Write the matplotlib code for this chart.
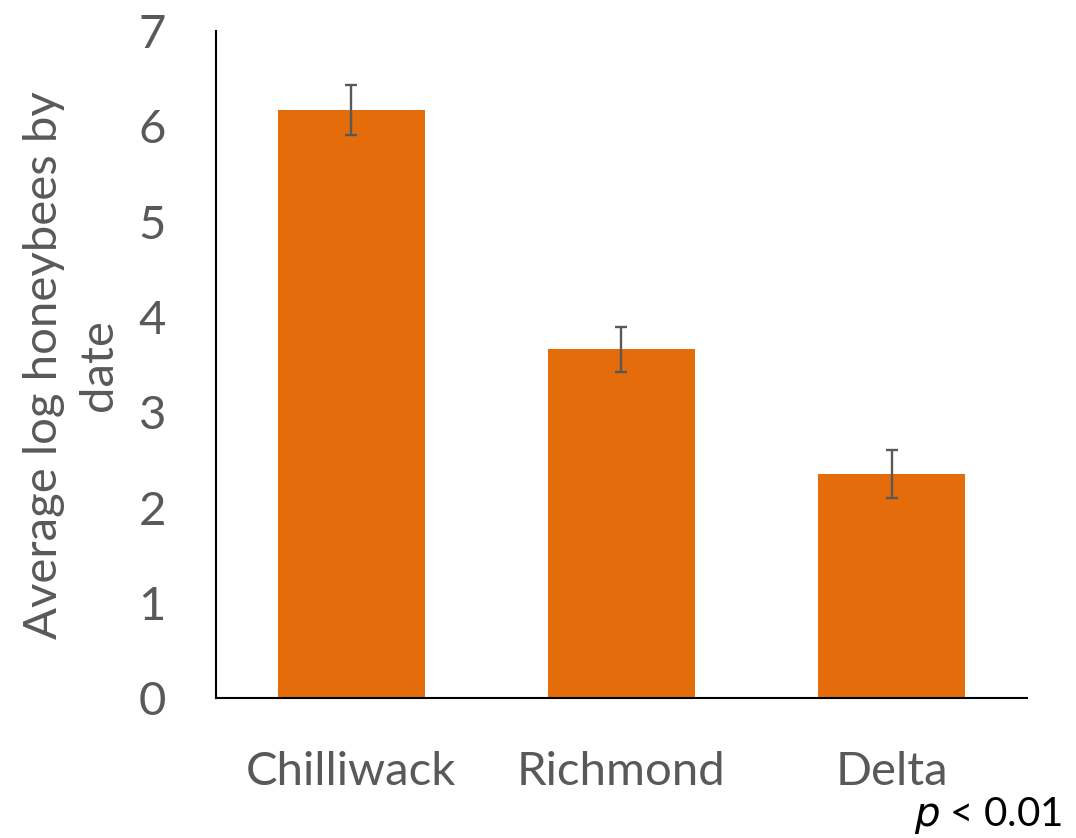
import numpy as np
import matplotlib.pyplot as plt

# Average log honeybee counts per site, with standard error
sites = ["Chilliwack", "Richmond", "Delta"]
mean_log_bees = [6.17, 3.66, 2.35]
std_err = [0.26, 0.24, 0.25]

BAR_COLOR = "#E46C0A"
TEXT_GREY = "#595959"

plt.rcParams['font.family'] = ['Lato', 'DejaVu Sans']

fig = plt.figure(figsize=(10.76, 8.38), dpi=100)
ax = fig.add_axes([0.2007, 0.1667, 0.7538, 0.7963])

x = np.arange(len(sites))
ax.bar(x, mean_log_bees, width=0.544, color=BAR_COLOR, zorder=2)
ax.errorbar(x, mean_log_bees, yerr=std_err, fmt='none', ecolor=TEXT_GREY,
            elinewidth=1.7, capsize=4.5, capthick=1.7, zorder=3)

ax.set_xlim(-0.5, len(sites) - 0.5)
ax.set_ylim(0, 7)
ax.set_yticks(range(0, 8))
ax.set_xticks(x)
ax.set_xticklabels(sites)

ax.spines['top'].set_visible(False)
ax.spines['right'].set_visible(False)
ax.spines['left'].set_linewidth(1.5)
ax.spines['bottom'].set_linewidth(1.5)

ax.tick_params(axis='both', length=0, labelcolor=TEXT_GREY)
ax.tick_params(axis='y', pad=36, labelsize=34)
ax.tick_params(axis='x', pad=38, labelsize=34)

ax.set_ylabel("Average log honeybees by\ndate", fontsize=34, color=TEXT_GREY,
              linespacing=1.4)
ax.yaxis.set_label_coords(-0.118, 0.5)

fig.text(0.987, 0.027, r"$\it{p}$ < 0.01", fontsize=29, ha='right', va='center',
         color='black')

fig.savefig("out.png", dpi=100)
